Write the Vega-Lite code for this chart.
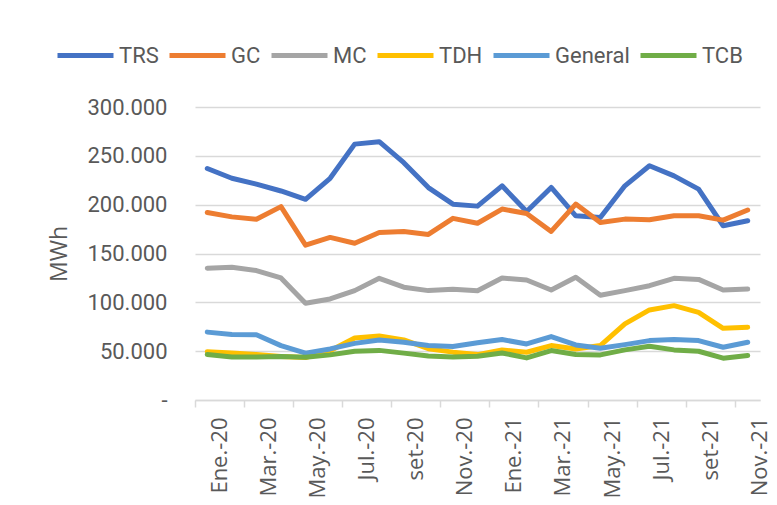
{
  "$schema": "https://vega.github.io/schema/vega-lite/v6.json",
  "autosize": "none",
  "width": 565,
  "height": 293,
  "padding": {"left": 195, "top": 107, "right": 17, "bottom": 105},
  "background": "white",
  "data": {
    "values": [
      {"mes": "Ene.-20", "TRS": 237000, "GC": 192000, "MC": 135000, "TDH": 49500, "General": 69500, "TCB": 46500},
      {"mes": "Feb.-20", "TRS": 227000, "GC": 187500, "MC": 136000, "TDH": 48000, "General": 67000, "TCB": 44000},
      {"mes": "Mar.-20", "TRS": 221000, "GC": 185000, "MC": 132500, "TDH": 46500, "General": 66800, "TCB": 44000},
      {"mes": "Abr.-20", "TRS": 214000, "GC": 198000, "MC": 125000, "TDH": 44500, "General": 55700, "TCB": 44500},
      {"mes": "May.-20", "TRS": 205500, "GC": 158500, "MC": 99000, "TDH": 43500, "General": 48000, "TCB": 43800},
      {"mes": "Jun.-20", "TRS": 227000, "GC": 166500, "MC": 103500, "TDH": 50500, "General": 52300, "TCB": 46200},
      {"mes": "Jul.-20", "TRS": 262000, "GC": 160500, "MC": 112000, "TDH": 63500, "General": 58000, "TCB": 50000},
      {"mes": "Ago.-20", "TRS": 264500, "GC": 171500, "MC": 124600, "TDH": 65500, "General": 61500, "TCB": 50800},
      {"mes": "set-20", "TRS": 243000, "GC": 172500, "MC": 115500, "TDH": 61500, "General": 59100, "TCB": 48000},
      {"mes": "Oct.-20", "TRS": 217500, "GC": 169500, "MC": 112000, "TDH": 52500, "General": 55800, "TCB": 45000},
      {"mes": "Nov.-20", "TRS": 200500, "GC": 186000, "MC": 113500, "TDH": 49000, "General": 54800, "TCB": 44000},
      {"mes": "Dic.-20", "TRS": 198500, "GC": 181000, "MC": 111800, "TDH": 46500, "General": 58600, "TCB": 44700},
      {"mes": "Ene.-21", "TRS": 219300, "GC": 195500, "MC": 124900, "TDH": 51300, "General": 61900, "TCB": 48200},
      {"mes": "Feb.-21", "TRS": 193000, "GC": 191000, "MC": 122900, "TDH": 48900, "General": 57400, "TCB": 43100},
      {"mes": "Mar.-21", "TRS": 217600, "GC": 172600, "MC": 112600, "TDH": 55700, "General": 64900, "TCB": 50600},
      {"mes": "Abr.-21", "TRS": 188600, "GC": 200600, "MC": 125600, "TDH": 52300, "General": 56400, "TCB": 46500},
      {"mes": "May.-21", "TRS": 186900, "GC": 181800, "MC": 107200, "TDH": 55700, "General": 53000, "TCB": 46200},
      {"mes": "Jun.-21", "TRS": 219300, "GC": 185200, "MC": 112000, "TDH": 77900, "General": 56700, "TCB": 51300},
      {"mes": "Jul.-21", "TRS": 239800, "GC": 184500, "MC": 117000, "TDH": 92200, "General": 60800, "TCB": 55000},
      {"mes": "Ago.-21", "TRS": 229500, "GC": 188600, "MC": 124600, "TDH": 96600, "General": 61900, "TCB": 51300},
      {"mes": "set-21", "TRS": 215900, "GC": 188600, "MC": 123500, "TDH": 89800, "General": 60800, "TCB": 49900},
      {"mes": "Oct.-21", "TRS": 178400, "GC": 184200, "MC": 112600, "TDH": 73400, "General": 54000, "TCB": 42800},
      {"mes": "Nov.-21", "TRS": 183500, "GC": 194500, "MC": 113600, "TDH": 74500, "General": 59100, "TCB": 45500}
    ]
  },
  "transform": [
    {"fold": ["TRS", "GC", "MC", "TDH", "General", "TCB"], "as": ["serie", "valor"]}
  ],
  "mark": {"type": "line", "strokeWidth": 5, "strokeCap": "round", "strokeJoin": "round"},
  "encoding": {
    "x": {
      "field": "mes",
      "type": "ordinal",
      "sort": null,
      "bandPosition": 0.5,
      "scale": {"type": "band", "paddingInner": 0, "paddingOuter": 0},
      "axis": {
        "title": null,
        "values": ["Ene.-20", "Mar.-20", "May.-20", "Jul.-20", "set-20", "Nov.-20", "Ene.-21", "Mar.-21", "May.-21", "Jul.-21", "set-21", "Nov.-21"],
        "bandPosition": 0,
        "labelOffset": 12.3,
        "labelAngle": -90,
        "labelAlign": "right",
        "labelBaseline": "middle",
        "labelPadding": 10,
        "labelFont": "Open Sans",
        "labelFontSize": 22,
        "labelColor": "#595959",
        "ticks": true,
        "tickSize": 7,
        "tickColor": "#d9d9d9",
        "tickWidth": 1.5,
        "domain": true,
        "domainColor": "#d9d9d9",
        "domainWidth": 1.5,
        "grid": false
      }
    },
    "y": {
      "field": "valor",
      "type": "quantitative",
      "scale": {"domain": [0, 300000], "nice": false, "zero": true},
      "axis": {
        "title": "MWh",
        "titleFont": "Open Sans",
        "titleFontSize": 23,
        "titleFontWeight": "normal",
        "titleColor": "#595959",
        "titlePadding": 16,
        "values": [0, 50000, 100000, 150000, 200000, 250000, 300000],
        "labelExpr": "datum.value == 0 ? '-\u00a0\u00a0' : replace(format(datum.value, ',.0f'), ',', '.')",
        "labelFont": "Roboto",
        "labelFontSize": 22,
        "labelColor": "#595959",
        "labelPadding": 28,
        "ticks": false,
        "tickSize": 0,
        "domain": false,
        "grid": true,
        "gridColor": "#d9d9d9",
        "gridWidth": 1.5
      }
    },
    "color": {
      "field": "serie",
      "type": "nominal",
      "sort": null,
      "scale": {
        "domain": ["TRS", "GC", "MC", "TDH", "General", "TCB"],
        "range": ["#4472C4", "#ED7D31", "#A5A5A5", "#FFC000", "#5B9BD5", "#70AD47"]
      },
      "legend": {
        "title": null,
        "orient": "none",
        "legendX": -140,
        "legendY": -82,
        "direction": "horizontal",
        "gridAlign": "none",
        "padding": 0,
        "symbolType": "stroke",
        "symbolSize": 3136,
        "symbolStrokeWidth": 5,
        "labelOffset": 3,
        "columnPadding": 0,
        "labelFont": "Roboto",
        "labelFontSize": 22,
        "labelColor": "#595959",
        "labelBaseline": "middle"
      }
    }
  },
  "config": {
    "view": {"stroke": null}
  }
}
